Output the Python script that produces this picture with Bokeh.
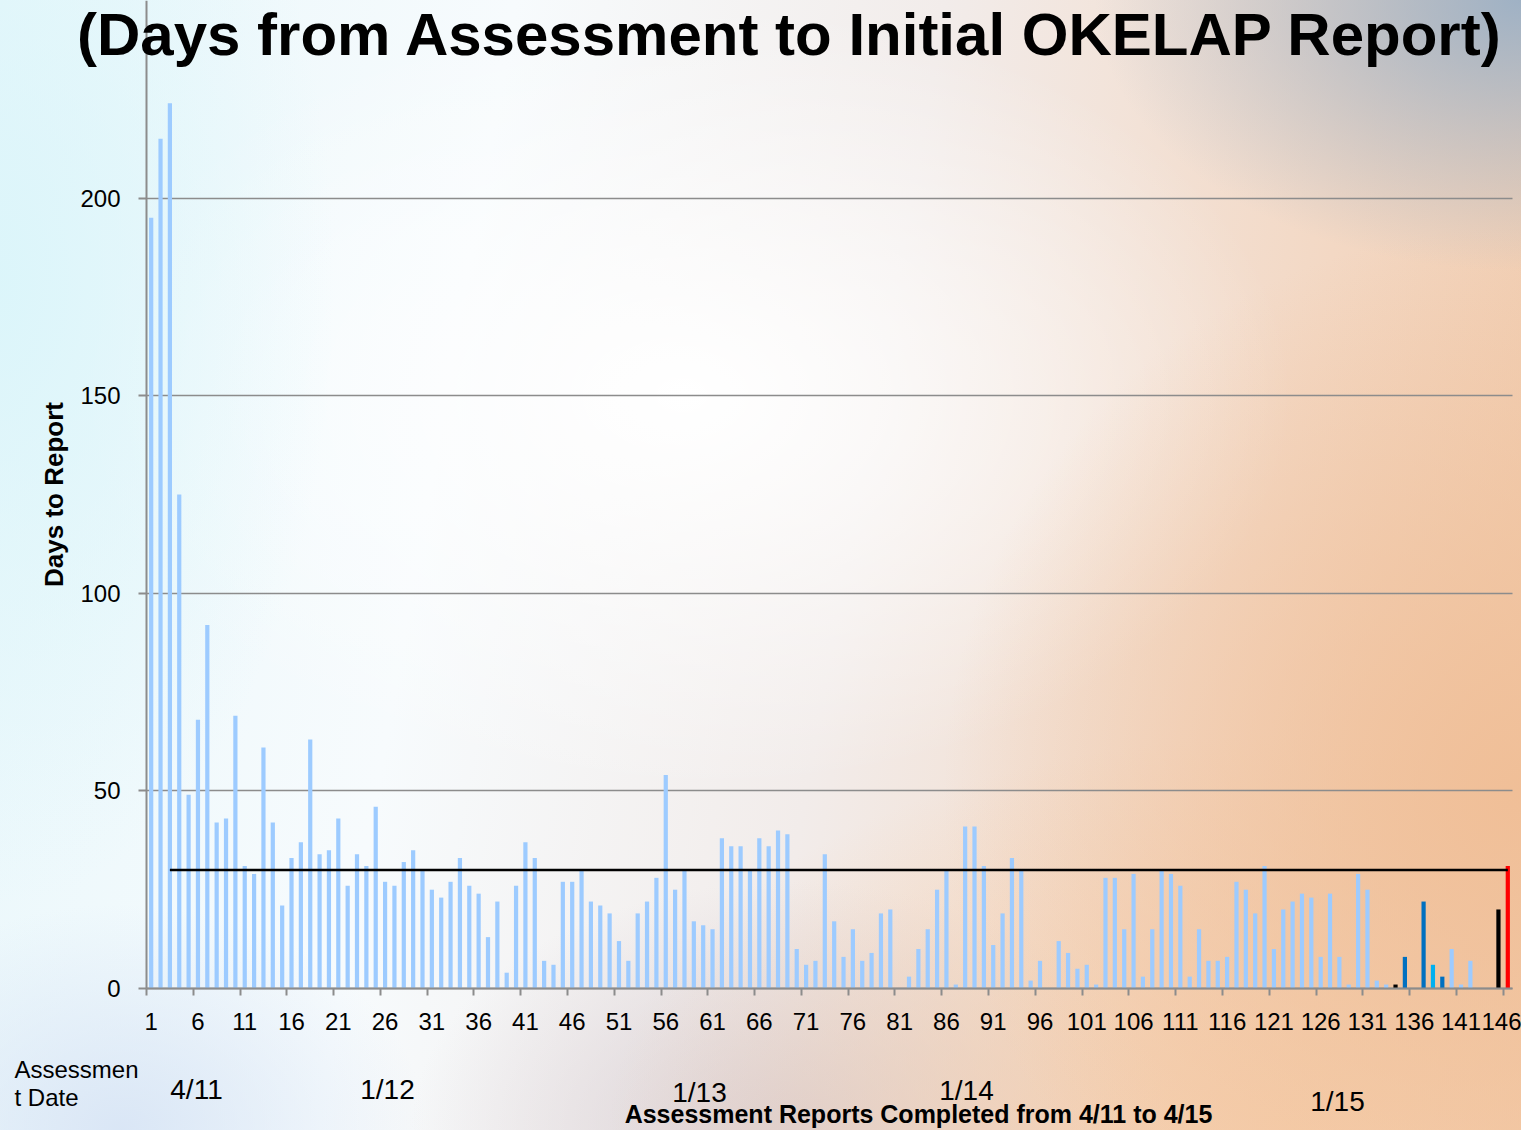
from bokeh.plotting import figure
from bokeh.models import ColumnDataSource, FixedTicker, Label
from bokeh.embed import file_html
from bokeh.resources import INLINE

# ---------------- data ----------------
report_no = list(range(1, 147))
days_to_report = [
    195, 215, 224, 125, 49, 68, 92, 42, 43, 69,
    31, 29, 61, 42, 21, 33, 37, 63, 34, 35,
    43, 26, 34, 31, 46, 27, 26, 32, 35, 30,
    25, 23, 27, 33, 26, 24, 13, 22, 4, 26,
    37, 33, 7, 6, 27, 27, 30, 22, 21, 19,
    12, 7, 19, 22, 28, 54, 25, 30, 17, 16,
    15, 38, 36, 36, 30, 38, 36, 40, 39, 10,
    6, 7, 34, 17, 8, 15, 7, 9, 19, 20,
    0, 3, 10, 15, 25, 30, 1, 41, 41, 31,
    11, 19, 33, 30, 2, 7, 0, 12, 9, 5,
    6, 1, 28, 28, 15, 29, 3, 15, 30, 29,
    26, 3, 15, 7, 7, 8, 27, 25, 19, 31,
    10, 20, 22, 24, 23, 8, 24, 8, 1, 29,
    25, 2, 1, 1, 8, 0, 22, 6, 3, 10,
    1, 7, 0, 0, 20, 31,
]
target_days = 30
target_start = 3            # the target line begins at report 3
# highlighted reports -> colour group
highlight = {134: "black", 135: "dark", 137: "dark", 138: "cyan",
             139: "dark", 145: "black", 146: "red"}
tick_labels = [str(i) for i in range(1, 147, 5)]
y_ticks = [0, 50, 100, 150, 200]
date_labels = ["4/11", "1/12", "1/13", "1/14", "1/15"]
title_text = "(Days from Assessment to Initial OKELAP Report)"
x_title = "Assessment Reports Completed from 4/11 to 4/15"
y_title = "Days to Report"
date_caption = ["Assessmen", "t Date"]

# ---------------- styles / layout ----------------
palette = {"base": "#9DCBFF", "dark": "#0070C0", "cyan": "#00B0F0",
           "black": "#000000", "red": "#FF0000"}
FONT = "Liberation Sans"
GRID = "#8c8c8c"

W, H = 1521, 1130          # canvas = frame
AX_LEFT, AX_BOTTOM = 146, 988   # pixel position of the plot axes
PX_PER_BAR = 9.356
PX_PER_DAY = 3.952
N = len(report_no)

x_lo = 0.5 - AX_LEFT / PX_PER_BAR
x_hi = 0.5 + (W - AX_LEFT) / PX_PER_BAR
y_hi = AX_BOTTOM / PX_PER_DAY
y_lo = -(H - AX_BOTTOM) / PX_PER_DAY


def xd(px):
    return 0.5 + (px - AX_LEFT) / PX_PER_BAR


def yd(py):
    return (AX_BOTTOM - py) / PX_PER_DAY


colors = [palette[highlight.get(n, "base")] for n in report_no]
src = ColumnDataSource(dict(x=report_no, top=days_to_report, color=colors))

p = figure(frame_width=W, frame_height=H,
           x_range=(x_lo, x_hi), y_range=(y_lo, y_hi),
           min_border_left=0, min_border_right=0,
           min_border_top=0, min_border_bottom=0,
           output_backend="svg", toolbar_location=None)

p.background_fill_alpha = 0
p.border_fill_alpha = 0
p.outline_line_color = None
p.styles = {"background": (
    "radial-gradient(ellipse 28% 24% at 100% 0%, rgba(150,174,198,0.9), rgba(150,174,198,0) 100%),"
    "radial-gradient(ellipse 38% 50% at 100% 70%, rgba(240,190,150,0.95), rgba(240,190,150,0) 100%),"
    "radial-gradient(ellipse 45% 35% at 85% 100%, rgba(245,205,170,0.95), rgba(245,205,170,0) 100%),"
    "radial-gradient(ellipse 25% 22% at 52% 100%, rgba(215,205,210,0.9), rgba(215,205,210,0) 100%),"
    "radial-gradient(ellipse 20% 20% at 8% 100%, rgba(215,228,245,0.9), rgba(215,228,245,0) 100%),"
    "radial-gradient(ellipse 22% 55% at 0% 25%, rgba(218,245,250,0.9), rgba(218,245,250,0) 100%),"
    "radial-gradient(ellipse 40% 35% at 45% 35%, #ffffff, rgba(255,255,255,0) 100%),"
    "linear-gradient(100deg, #e8f7fb 0%, #f7fbfd 30%, #f2ecea 55%, #f3d8c4 80%, #f0c9aa 100%)"
)}

# gridlines
p.xgrid.visible = False
p.ygrid.ticker = FixedTicker(ticks=y_ticks)
p.ygrid.grid_line_color = GRID
p.ygrid.grid_line_width = 1.5
p.ygrid.cross_bounds = (0.5, N + 0.5)

# y axis, pinned at the left edge of the bars
yax = p.yaxis[0]
yax.fixed_location = 0.5
yax.bounds = (0, y_hi)
yax.ticker = FixedTicker(ticks=y_ticks)
yax.axis_line_color = GRID
yax.axis_line_width = 2
yax.major_tick_line_color = GRID
yax.major_tick_line_width = 2
yax.major_tick_out = 8
yax.major_tick_in = 0
yax.minor_tick_line_color = None
yax.major_label_standoff = 18
yax.major_label_text_font = FONT
yax.major_label_text_font_size = "24px"
yax.major_label_text_color = "black"
yax.axis_label = y_title
yax.axis_label_text_font = FONT
yax.axis_label_text_font_size = "26px"
yax.axis_label_text_font_style = "bold"
yax.axis_label_text_color = "black"
yax.axis_label_standoff = 8

# x axis, pinned at zero days
label_pos = list(range(1, N + 1, 5))
boundary_pos = [i - 0.5 for i in label_pos]
xax = p.xaxis[0]
xax.fixed_location = 0
xax.bounds = (0.5, N + 0.5)
xax.ticker = FixedTicker(ticks=label_pos, minor_ticks=boundary_pos)
xax.major_label_overrides = {v: t for v, t in zip(label_pos, tick_labels)}
xax.axis_line_color = GRID
xax.axis_line_width = 2
xax.major_tick_line_color = None
xax.major_tick_out = 0
xax.major_tick_in = 0
xax.minor_tick_line_color = GRID
xax.minor_tick_line_width = 2
xax.minor_tick_out = 7
xax.minor_tick_in = 0
xax.major_label_standoff = 17
xax.major_label_text_font = FONT
xax.major_label_text_font_size = "24px"
xax.major_label_text_color = "black"

# bars and target line
p.vbar(x="x", top="top", width=0.45, fill_color="color", line_color=None, source=src)
line_x = [n for n in report_no if n >= target_start]
p.line(x=line_x, y=[target_days] * len(line_x), line_color="black", line_width=2.5)


def add_text(text, px, py, size, bold=False, align="center", baseline="middle"):
    p.add_layout(Label(x=xd(px), y=yd(py), text=text,
                       text_align=align, text_baseline=baseline, text_font=FONT,
                       text_font_style="bold" if bold else "normal",
                       text_font_size=size, text_color="black"))


# title at the top of the slide, kept fully inside the picture
add_text(title_text, 790, 34, "60px", bold=True, baseline="alphabetic")

# date captions under the axis
date_px = [196, 387, 699, 966, 1337]
date_py = [1089, 1089, 1092, 1090, 1101]
for t, px, py in zip(date_labels, date_px, date_py):
    add_text(t, px, py, "28px")
for t, py in zip(date_caption, [1069, 1097]):
    add_text(t, 14, py, "24px", align="left")

add_text(x_title, 918, 1113, "25px", bold=True)

open("out.html", "w").write(file_html(p, INLINE))
